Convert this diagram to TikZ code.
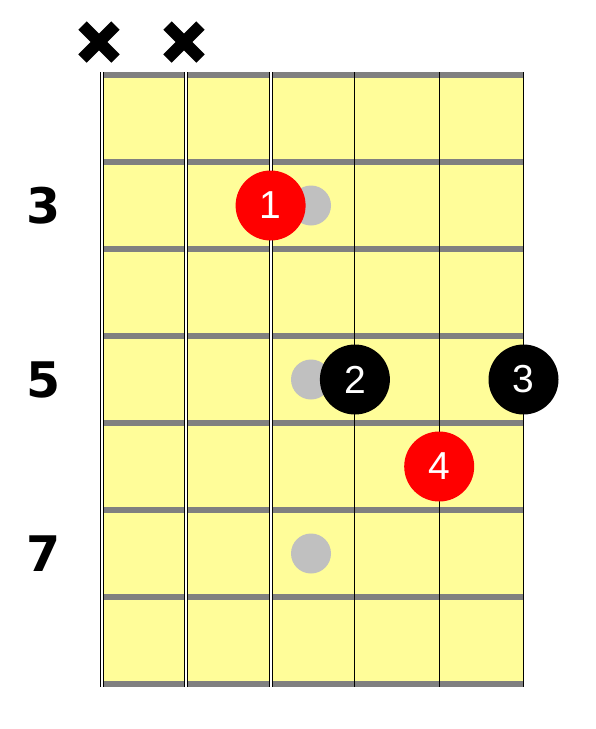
\documentclass[tikz,border=0pt]{standalone}
\usepackage{fontspec}
\newfontfamily\fingerfont{Liberation Sans}
\newfontfamily\fretfont{DejaVu Sans}
\usetikzlibrary{calc}
\definecolor{fboard}{RGB}{255, 253, 153}
\definecolor{fgray}{RGB}{128, 128, 128}
\definecolor{dotgray}{RGB}{192, 192, 192}

\begin{document}
\begin{tikzpicture}[x=1pt, y=-1pt,
	fretline/.style={draw=fgray, line width=5.5pt},
	wound/.style={draw=black, line width=1pt, double=white, double distance=2pt},
	plain/.style={draw=black, line width=1pt},
	mute/.style={draw=black, line width=12pt},
	finger/.style={shape=circle, fill=#1, text=white, inner sep=0pt, minimum size=70pt, font=\fingerfont\fontsize{39}{39}\selectfont},
	fretnum/.style={inner sep=0pt, font=\fretfont\bfseries\fontsize{49}{49}\selectfont}]
			\useasboundingbox (0,0) rectangle (595,729);
			
			\foreach \i in {1,...,6}{
				\coordinate (S\i) at ({102+84.3*(\i-1)}, 72);
				\coordinate (E\i) at ({102+84.3*(\i-1)}, 687);
			};
			
			\fill[fboard] (104,75) rectangle (S6 |- 0,684);
			
			\foreach \i in {0,...,7}{
				\coordinate (FL\i) at (102, 75+87*\i);
				\coordinate (FR\i) at (523.5, 75+87*\i);
				\draw[fretline] (FL\i) -- (FR\i);
			};
			
			\foreach \i in {1, 2, 3}{
				\draw[wound] (S\i) -- (E\i);
			};
			\foreach \i in {4, 5, 6}{
				\draw[plain] (S\i) -- (E\i);
			};
			
			\foreach \x in {99, 184}{
				\draw[mute] (\x-16.5, 25.5) -- ++(33, 33) (\x-16.5, 58.5) -- ++(33, -33);
			};
			
			\foreach \i/\y in {3/205.5, 5/379.5, 7/553.5}{
				\fill[dotgray] (311, \y) circle (20pt);
				\node[fretnum] (N\i) at (43.5, \y) {\i};
			};
			
			\node[finger=red] (F1) at (S3 |- 0,205.5) {1};
			\node[finger=black] (F2) at (S4 |- 0,379.5) {2};
			\node[finger=black] (F3) at (S6 |- 0,379.5) {3};
			\node[finger=red] (F4) at (S5 |- 0,466.5) {4};
			
		\end{tikzpicture}
\end{document}
